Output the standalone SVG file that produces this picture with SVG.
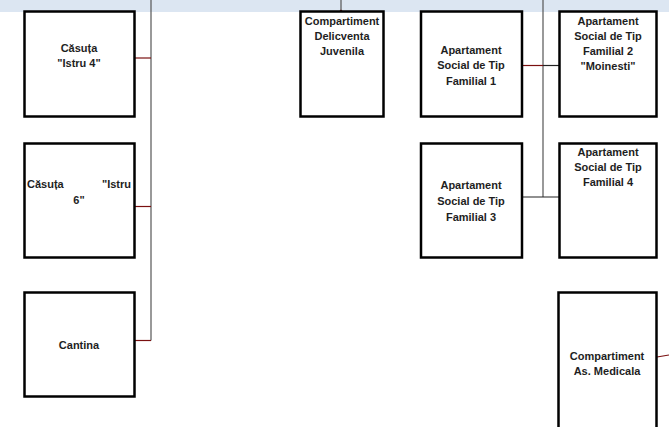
<svg xmlns="http://www.w3.org/2000/svg" width="669" height="427" viewBox="0 0 669 427">
<style>
.box{fill:#fff;stroke:#000;stroke-width:2.5}
.t{font-family:"Liberation Sans",Arial,sans-serif;font-weight:bold;font-size:11px;fill:#1e1e1e;text-anchor:middle}
.g{stroke:#555;stroke-width:1.2;fill:none}
.r{stroke:#7a1010;stroke-width:1.2;fill:none}
.k{stroke:#222;stroke-width:1.2;fill:none}
</style>
<rect x="0" y="0" width="669" height="12" fill="#dce6f2"/>
<g id="connectors">
<line class="g" x1="151" y1="0" x2="151" y2="340.5"/>
<line class="r" x1="135" y1="58" x2="151" y2="58"/>
<line class="r" x1="135" y1="206.5" x2="151" y2="206.5"/>
<line class="r" x1="135" y1="340.5" x2="151" y2="340.5"/>
<line class="g" x1="341" y1="0" x2="341" y2="11"/>
<circle cx="341" cy="11" r="1.3" fill="#7a1010"/>
<line class="g" x1="543" y1="0" x2="543" y2="197"/>
<line class="r" x1="523" y1="65.5" x2="543" y2="65.5"/>
<line class="k" x1="543" y1="65.5" x2="559" y2="65.5"/>
<line class="k" x1="523" y1="197" x2="559" y2="197"/>
<line class="r" x1="657" y1="357" x2="669" y2="355"/>
</g>
<g id="casuta-istru4">
<rect class="box" x="24.5" y="11.5" width="110" height="105"/>
<text class="t" x="79" y="52">Căsuța</text>
<text class="t" x="79" y="67">"Istru 4"</text>
</g>
<g id="casuta-istru6">
<rect class="box" x="24.5" y="143.5" width="110" height="114"/>
<text class="t" x="27" y="188" style="text-anchor:start">Căsuța</text>
<text class="t" x="131" y="188" style="text-anchor:end">"Istru</text>
<text class="t" x="79" y="204">6"</text>
</g>
<g id="cantina">
<rect class="box" x="24.5" y="292.5" width="110" height="104"/>
<text class="t" x="79" y="349">Cantina</text>
</g>
<g id="delicventa">
<rect class="box" x="300.5" y="11.5" width="83" height="105"/>
<text class="t" x="342" y="25">Compartiment</text>
<text class="t" x="342" y="40">Delicventa</text>
<text class="t" x="342" y="55">Juvenila</text>
</g>
<g id="fam1">
<rect class="box" x="421" y="11.5" width="101" height="105"/>
<text class="t" x="471" y="54">Apartament</text>
<text class="t" x="471" y="69">Social de Tip</text>
<text class="t" x="471" y="84.5">Familial 1</text>
</g>
<g id="fam2">
<rect class="box" x="559.5" y="11.5" width="97" height="105"/>
<text class="t" x="608" y="25">Apartament</text>
<text class="t" x="608" y="40">Social de Tip</text>
<text class="t" x="608" y="55">Familial 2</text>
<text class="t" x="608" y="69.5">"Moinesti"</text>
</g>
<g id="fam3">
<rect class="box" x="421" y="143.5" width="101" height="114"/>
<text class="t" x="471" y="189">Apartament</text>
<text class="t" x="471" y="205">Social de Tip</text>
<text class="t" x="471" y="221">Familial 3</text>
</g>
<g id="fam4">
<rect class="box" x="559.5" y="143.5" width="97" height="114"/>
<text class="t" x="608" y="156">Apartament</text>
<text class="t" x="608" y="171">Social de Tip</text>
<text class="t" x="608" y="186">Familial 4</text>
</g>
<g id="medicala">
<rect class="box" x="558.5" y="292.5" width="98" height="140"/>
<text class="t" x="607" y="360">Compartiment</text>
<text class="t" x="607" y="374.5">As. Medicala</text>
</g>
</svg>
